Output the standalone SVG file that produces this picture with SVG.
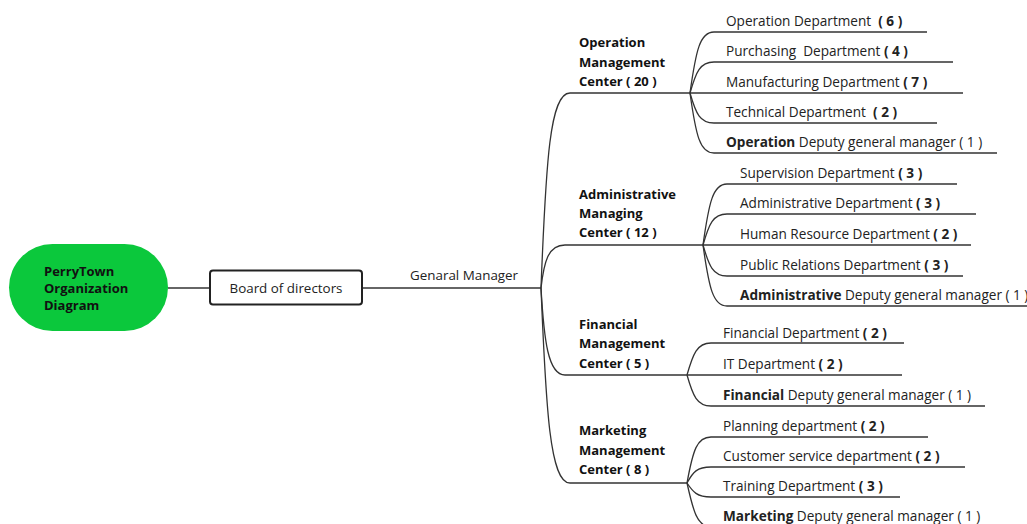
<svg xmlns="http://www.w3.org/2000/svg" width="1027" height="524" viewBox="0 0 1027 524">
<style>
text{font-family:"Open Sans","Noto Sans","DejaVu Sans",sans-serif;font-size:13px;fill:#222;white-space:pre}
.k text{font-size:13.6px}
.b{font-weight:bold}
.c{font-weight:bold;fill:#111}
.ln{fill:none;stroke:#333;stroke-width:1.3}
</style>
<rect width="1027" height="524" fill="#fff"/>
<g id="connectors">
<path class="ln" d="M168,288 L210,288" stroke-width="2.2"/>
<path class="ln" d="M362,288 L541,288"/>
<path class="ln" d="M541,288 C546,160 550,93 570,93 L690,93"/>
<path class="ln" d="M541,288 C544,262 548,245 565,245 L703,245"/>
<path class="ln" d="M541,288 C544,340 548,375 565,375 L687,375"/>
<path class="ln" d="M541,288 C546,410 550,483 570,483 L687,483"/>
<path class="ln" d="M690,93 C696,50 700,32 714,32 L927,32"/>
<path class="ln" d="M690,93 C696,72 700,62 714,62 L953,62"/>
<path class="ln" d="M690,93 L963,93"/>
<path class="ln" d="M690,93 C696,114 700,123 714,123 L937,123"/>
<path class="ln" d="M690,93 C696,136 700,153 714,153 L997,153"/>
<path class="ln" d="M703,245 C709,202 713,184 727,184 L957,184"/>
<path class="ln" d="M703,245 C709,224 713,214 727,214 L976,214"/>
<path class="ln" d="M703,245 L971,245"/>
<path class="ln" d="M703,245 C709,266 713,276 727,276 L963,276"/>
<path class="ln" d="M703,245 C709,288 713,306 727,306 L1027,306"/>
<path class="ln" d="M687,375 C693,354 697,343 711,343 L904,343"/>
<path class="ln" d="M687,375 L902,375"/>
<path class="ln" d="M687,375 C693,396 697,406 711,406 L985,406"/>
<path class="ln" d="M687,483 C693,450 697,437 711,437 L928,437"/>
<path class="ln" d="M687,483 C693,472 697,467 711,467 L965,467"/>
<path class="ln" d="M687,483 C693,492 697,497 711,497 L900,497"/>
<path class="ln" d="M687,483 C693,510 697,527 711,527 L990,527"/>
</g>
<g id="root">
<rect x="9" y="244" width="159" height="87" rx="43.5" fill="#0BC83C"/>
<text class="c" x="44" y="276">PerryTown</text>
<text class="c" x="44" y="293">Organization</text>
<text class="c" x="44" y="310">Diagram</text>
</g>
<g id="board">
<rect x="210" y="270.5" width="152" height="34" rx="3" fill="#fff" stroke="#222" stroke-width="2"/>
<text x="286" y="293" text-anchor="middle" style="font-size:13.4px">Board of directors</text>
</g>
<g id="gm"><text x="410" y="280" style="font-size:13.4px">Genaral Manager</text></g>
<g id="op-center">
<text class="c" x="579" y="47">Operation</text>
<text class="c" x="579" y="67">Management</text>
<text class="c" x="579" y="86">Center ( 20 )</text>
</g>
<g id="op-children" class="k">
<text x="726" y="26">Operation Department  <tspan class="b">( 6 )</tspan></text>
<text x="726" y="56">Purchasing  Department <tspan class="b">( 4 )</tspan></text>
<text x="726" y="87">Manufacturing Department <tspan class="b">( 7 )</tspan></text>
<text x="726" y="117">Technical Department  <tspan class="b">( 2 )</tspan></text>
<text x="726" y="147"><tspan class="b">Operation</tspan> Deputy general manager ( 1 )</text>
</g>
<g id="adm-center">
<text class="c" x="579" y="199">Administrative</text>
<text class="c" x="579" y="218">Managing</text>
<text class="c" x="579" y="237">Center ( 12 )</text>
</g>
<g id="adm-children" class="k">
<text x="740" y="178">Supervision Department <tspan class="b">( 3 )</tspan></text>
<text x="740" y="208">Administrative Department <tspan class="b">( 3 )</tspan></text>
<text x="740" y="239">Human Resource Department <tspan class="b">( 2 )</tspan></text>
<text x="740" y="270">Public Relations Department <tspan class="b">( 3 )</tspan></text>
<text x="740" y="300"><tspan class="b">Administrative</tspan> Deputy general manager ( 1 )</text>
</g>
<g id="fin-center">
<text class="c" x="579" y="329">Financial</text>
<text class="c" x="579" y="348">Management</text>
<text class="c" x="579" y="368">Center ( 5 )</text>
</g>
<g id="fin-children" class="k">
<text x="723" y="338">Financial Department <tspan class="b">( 2 )</tspan></text>
<text x="723" y="369">IT Department <tspan class="b">( 2 )</tspan></text>
<text x="723" y="400"><tspan class="b">Financial</tspan> Deputy general manager ( 1 )</text>
</g>
<g id="mkt-center">
<text class="c" x="579" y="435">Marketing</text>
<text class="c" x="579" y="455">Management</text>
<text class="c" x="579" y="474">Center ( 8 )</text>
</g>
<g id="mkt-children" class="k">
<text x="723" y="431">Planning department <tspan class="b">( 2 )</tspan></text>
<text x="723" y="461">Customer service department <tspan class="b">( 2 )</tspan></text>
<text x="723" y="491">Training Department <tspan class="b">( 3 )</tspan></text>
<text x="723" y="521"><tspan class="b">Marketing</tspan> Deputy general manager ( 1 )</text>
</g>
</svg>
